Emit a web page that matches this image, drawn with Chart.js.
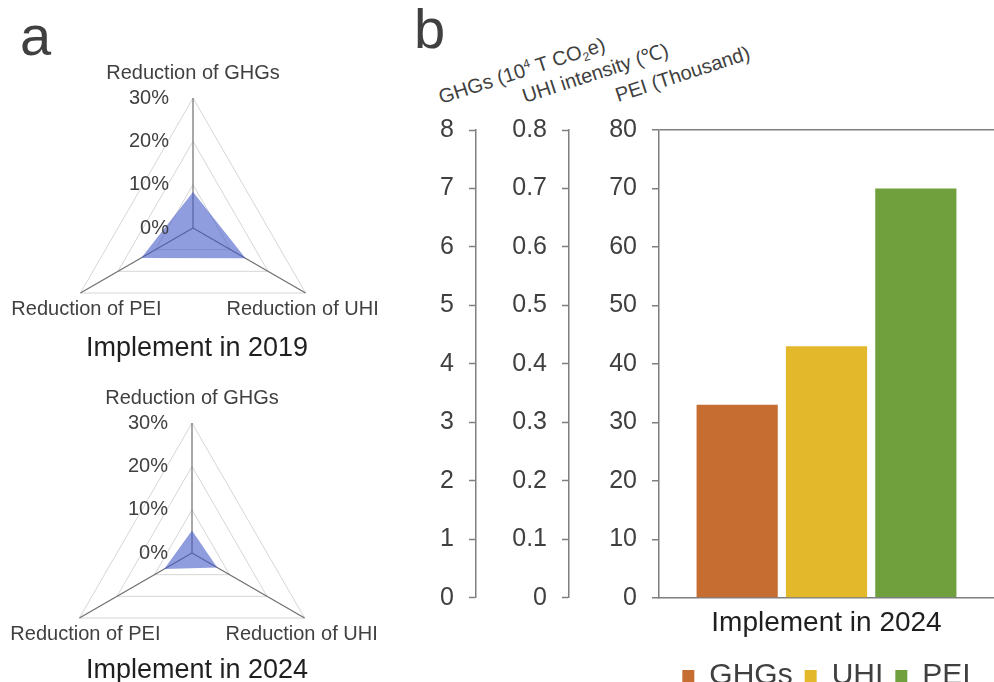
<!DOCTYPE html>
<html>
<head>
<meta charset="utf-8">
<script src="https://cdn.jsdelivr.net/npm/chart.js@4.4.0/dist/chart.umd.min.js"></script>
<style>
  html, body { margin: 0; padding: 0; width: 994px; height: 682px; overflow: hidden; background: #fff; }
  body { position: relative; font-family: "Liberation Sans", Arial, sans-serif; color: #404040; }
  canvas { position: absolute; }
  .txt { position: absolute; white-space: nowrap; line-height: 1; }
  .panel { font-size: 56px; }
  .title { font-size: 27px; color: #1f1f1f; width: 400px; text-align: center; left: -3px; }
  .axtitle { font-size: 20px; transform-origin: 0 17px; transform: rotate(-18deg); }
  .sup { font-size: 12px; vertical-align: 8px; }
  .sub { font-size: 12px; vertical-align: -4px; }
</style>
</head>
<body>
<div class="txt panel" style="left:20px; top:8px;">a</div>
<div class="txt panel" style="left:414px; top:1px;">b</div>

<canvas id="radar2019" width="400" height="330" style="left:0; top:40px;"></canvas>
<div class="txt title" style="top:334px;">Implement in 2019</div>

<canvas id="radar2024" width="400" height="330" style="left:0; top:370px;"></canvas>
<div class="txt title" style="top:656px;">Implement in 2024</div>

<div class="txt axtitle" style="left:441px; top:86px;">GHGs (10<span class="sup">4</span> T CO<span class="sub">2</span>e)</div>
<div class="txt axtitle" style="left:525px; top:86px;">UHI intensity (℃)</div>
<div class="txt axtitle" style="left:618px; top:85px;">PEI (Thousand)</div>

<canvas id="barChart" width="574" height="601" style="left:420px; top:100px;"></canvas>

<script>
// Radar charts (panel a), values in %
const radarAxes = ['Reduction of GHGs', 'Reduction of UHI', 'Reduction of PEI'];
const radarTicks = [0, 10, 20, 30];
const reduction2019 = [8.3, 14.0, 13.8];
const reduction2024 = [5.2, 6.7, 7.4];

// Bar chart (panel b)
const barCategories = ['Implement in 2024'];
const ghgValues = [3.3];   // 10^4 T CO2e
const uhiValues = [0.43];  // deg C
const peiValues = [70];    // thousand
const ghgRange = [0, 8, 1];
const uhiRange = [0, 0.8, 0.1];
const peiRange = [0, 80, 10];

const FONT = '"Liberation Sans", Arial, sans-serif';
const TEXT = '#404040';
const AXIS = '#7f7f7f';

Chart.defaults.font.family = FONT;
Chart.defaults.color = TEXT;

// draws the axis names and % labels the way the figure has them
const radarText = {
    id: 'radarText',
    afterDraw(chart) {
        const r = chart.scales.r;
        const ctx = chart.ctx;
        ctx.save();
        ctx.fillStyle = TEXT;
        ctx.font = '20px ' + FONT;
        ctx.textAlign = 'center';
        ctx.textBaseline = 'middle';
        chart.data.labels.forEach((lab, i) => {
            const p = r.getPointPosition(i, r.drawingArea);
            const dy = i === 0 ? -25 : 16;
            const dx = i === 1 ? -3 : (i === 2 ? 6 : 0);
            ctx.fillText(lab, p.x + dx, p.y + dy);
        });
        ctx.textAlign = 'right';
        radarTicks.forEach(v => {
            const d = r.getDistanceFromCenterForValue(v);
            ctx.fillText(v + '%', r.xCenter - 24, r.yCenter - d);
        });
        ctx.restore();
    }
};

function makeRadar(id, values, padding) {
    return new Chart(document.getElementById(id), {
        type: 'radar',
        data: {
            labels: radarAxes,
            datasets: [{
                data: values,
                fill: true,
                backgroundColor: 'rgba(68, 90, 200, 0.6)',
                borderWidth: 0,
                pointRadius: 0
            }]
        },
        options: {
            responsive: false,
            animation: false,
            layout: { padding: padding },
            plugins: { legend: { display: false }, tooltip: { enabled: false } },
            scales: {
                r: {
                    min: radarTicks[0],
                    max: radarTicks[radarTicks.length - 1],
                    ticks: { display: false, stepSize: 10 },
                    pointLabels: { display: false },
                    grid: { color: '#d6d6d6', lineWidth: 1 },
                    angleLines: { color: '#6e6e6e', lineWidth: 1.2 }
                }
            }
        },
        plugins: [radarText]
    });
}

makeRadar('radar2019', reduction2019, { left: 63, right: 77, top: 58, bottom: 12 });
makeRadar('radar2024', reduction2024, { left: 62, right: 78, top: 53, bottom: 17 });

function sideAxis(range, weight, width, fmt) {
    return {
        type: 'linear',
        position: 'left',
        weight: weight,
        min: range[0],
        max: range[1],
        border: { color: AXIS, width: 1.5 },
        grid: { drawOnChartArea: false, tickLength: 7, tickColor: AXIS, tickWidth: 1.5 },
        ticks: { stepSize: range[2], padding: 15, font: { size: 25 }, color: TEXT, callback: fmt },
        afterFit: s => { s.width = width; }
    };
}

const pei = sideAxis(peiRange, 0, 90, v => v);
pei.grid = {
    drawOnChartArea: true,
    tickLength: 7,
    tickColor: AXIS,
    tickWidth: 1.5,
    lineWidth: 1.5,
    color: c => (c.tick && c.tick.value === peiRange[1]) ? AXIS : 'rgba(0,0,0,0)'
};

new Chart(document.getElementById('barChart'), {
    type: 'bar',
    data: {
        labels: barCategories,
        datasets: [
            { label: 'GHGs', data: ghgValues, backgroundColor: '#c66e31', yAxisID: 'yG' },
            { label: 'UHI', data: uhiValues, backgroundColor: '#e3b82b', yAxisID: 'yU' },
            { label: 'PEI', data: peiValues, backgroundColor: '#70a03d', yAxisID: 'yP' }
        ]
    },
    options: {
        responsive: false,
        animation: false,
        barPercentage: 0.909,
        categoryPercentage: 0.8,
        layout: { padding: { top: 10, right: 0, left: 0, bottom: 0 } },
        plugins: {
            tooltip: { enabled: false },
            legend: {
                position: 'bottom',
                fullSize: false,
                labels: { boxWidth: 12, boxHeight: 12, padding: 12, font: { size: 30 }, color: TEXT }
            }
        },
        scales: {
            x: {
                border: { color: AXIS, width: 1.5 },
                grid: { drawOnChartArea: false, drawTicks: false },
                ticks: { padding: 13, font: { size: 28, lineHeight: 0.9 }, color: '#1f1f1f' }
            },
            yG: sideAxis(ghgRange, 2, 56, v => v),
            yU: sideAxis(uhiRange, 1, 93, v => String(+v.toFixed(1))),
            yP: pei
        }
    }
});
</script>
</body>
</html>
